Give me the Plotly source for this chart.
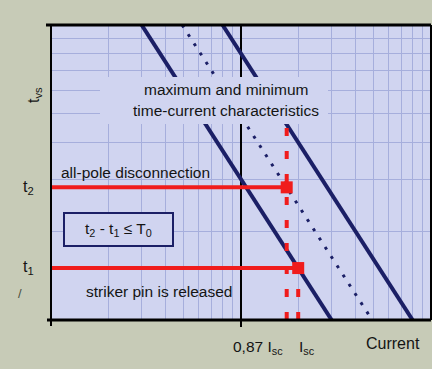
import plotly.graph_objects as go

# Axis extents (log-log): current on x, time on y
current_range = [1, 100]
time_range = [1, 10]

# Grid positions (one line per digit of each decade)
grid_currents = [1, 2, 3, 4, 5, 6, 7, 8, 9, 10, 20, 30, 40, 50, 60, 70, 80, 90, 100]
grid_times = [1, 2, 3, 4, 5, 6, 7, 8, 9, 10]

# Time-current characteristics (straight lines on log-log paper)
min_char_current = [3, 30]
min_char_time = [10, 1]
mid_char_current = [4.9, 49]
mid_char_time = [10, 1]
max_char_current = [8, 80]
max_char_time = [10, 1]

# Operating points
i_sc = 20.0
i_087 = 0.87 * i_sc
t1 = 30 / i_sc          # on the minimum characteristic
t2 = 49 / i_087         # on the middle (dotted) characteristic
ref_current = 10        # black reference line
dash_top_time = 4.6

W, H = 432, 369
L, R, T, B = 51, 431, 25, 320

NAVY = "#1b1f66"
RED = "#f01c1c"
PLOT_BG = "#d0d4f0"
PAPER_BG = "#c7cbb7"
GRID = "#a6aedc"
TXT = "#141414"
FONT = "Liberation Sans, Arial, sans-serif"


def px(x):
    return (x - L) / (R - L)


def py(y):
    return (B - y) / (B - T)


fig = go.Figure()

# reference line at 0,87 Isc region
fig.add_trace(go.Scatter(x=[ref_current, ref_current], y=time_range, mode="lines",
                         line=dict(color="black", width=2)))

# characteristics
fig.add_trace(go.Scatter(x=min_char_current, y=min_char_time, mode="lines",
                         line=dict(color=NAVY, width=4)))
fig.add_trace(go.Scatter(x=max_char_current, y=max_char_time, mode="lines",
                         line=dict(color=NAVY, width=4)))
fig.add_trace(go.Scatter(x=mid_char_current, y=mid_char_time, mode="lines",
                         line=dict(color=NAVY, width=3, dash="3px,8px")))

# red dashed verticals
fig.add_trace(go.Scatter(x=[i_087, i_087], y=[time_range[0], dash_top_time], mode="lines",
                         line=dict(color=RED, width=4, dash="8px,15px")))
fig.add_trace(go.Scatter(x=[i_sc, i_sc], y=[time_range[0], t1], mode="lines",
                         line=dict(color=RED, width=4, dash="8px,15px")))

# red horizontals to the operating points
fig.add_trace(go.Scatter(x=[current_range[0], i_087], y=[t2, t2], mode="lines",
                         line=dict(color=RED, width=4)))
fig.add_trace(go.Scatter(x=[current_range[0], i_sc], y=[t1, t1], mode="lines",
                         line=dict(color=RED, width=4)))
fig.add_trace(go.Scatter(x=[i_087, i_sc], y=[t2, t1], mode="markers",
                         marker=dict(color=RED, size=12, symbol="square")))

shapes = [
    # opaque panel behind the characteristics caption
    dict(type="rect", xref="paper", yref="paper", x0=px(100), x1=px(328),
         y0=py(124), y1=py(77), fillcolor=PLOT_BG, line=dict(width=0), layer="above"),
    # boxed inequality
    dict(type="rect", xref="paper", yref="paper", x0=px(64), x1=px(173),
         y0=py(246), y1=py(213), fillcolor=PLOT_BG, line=dict(color=NAVY, width=2),
         layer="above"),
    # frame
    dict(type="line", xref="paper", yref="paper", x0=px(46), x1=1, y0=1, y1=1,
         line=dict(color="black", width=3)),
    dict(type="line", xref="paper", yref="paper", x0=px(47), x1=1, y0=0, y1=0,
         line=dict(color="black", width=3)),
    dict(type="line", xref="paper", yref="paper", x0=0, x1=0, y0=py(326), y1=1,
         line=dict(color="black", width=2)),
    dict(type="line", xref="paper", yref="paper", x0=1, x1=1, y0=0, y1=1,
         line=dict(color="black", width=2)),
    # tick below the reference line
    dict(type="line", xref="paper", yref="paper", x0=0.5, x1=0.5, y0=py(327), y1=0,
         line=dict(color="black", width=2)),
]

font = dict(family=FONT, size=15.5, color=TXT)


def ann(text, x, y, xanchor="center", angle=0, size=15.5, color=TXT):
    return dict(text=text, xref="paper", yref="paper", x=px(x), y=py(y),
                xanchor=xanchor, yanchor="middle", showarrow=False, textangle=angle,
                font=dict(family=FONT, size=size, color=color))


annotations = [
    ann("maximum and minimum", 226, 90),
    ann("time-current characteristics", 226, 111),
    ann("all-pole disconnection", 59, 172, xanchor="left"),
    ann("striker pin is released", 84, 291, xanchor="left"),
    ann("t<sub>2</sub> - t<sub>1</sub> ≤ T<sub>0</sub>", 118, 230),
    ann("t<sub>2</sub>", 28, 188, size=16),
    ann("t<sub>1</sub>", 28, 267, size=16),
    ann("t<sub>vs</sub>", 34, 95, angle=-90, size=16),
    ann("/", 20, 293, size=13, color="#4a5040"),
    ann("0,87 I<sub>sc</sub>", 258, 347),
    ann("I<sub>sc</sub>", 307, 347),
    ann("Current", 393, 343, size=16),
]

fig.update_layout(
    width=W, height=H,
    margin=dict(l=L, r=W - R, t=T, b=H - B),
    paper_bgcolor=PAPER_BG, plot_bgcolor=PLOT_BG,
    showlegend=False,
    shapes=shapes, annotations=annotations, font=font,
)
fig.update_xaxes(type="log", range=[0, 2], tickvals=grid_currents, showticklabels=False,
                 showgrid=True, gridcolor=GRID, gridwidth=1, zeroline=False, showline=False,
                 ticks="")
fig.update_yaxes(type="log", range=[0, 1], tickvals=grid_times, showticklabels=False,
                 showgrid=True, gridcolor=GRID, gridwidth=1, zeroline=False, showline=False,
                 ticks="")

fig.write_html("out.html", config={"displayModeBar": False})
